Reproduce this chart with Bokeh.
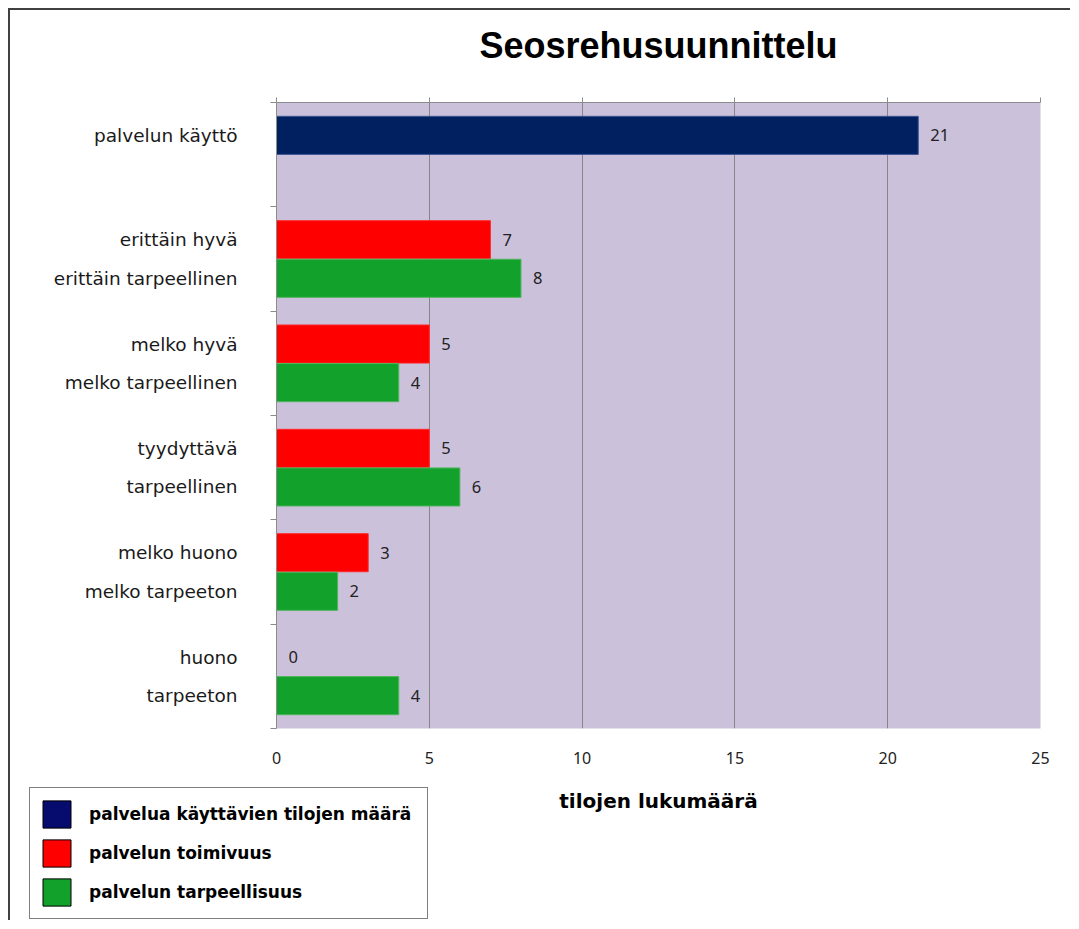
from bokeh.plotting import figure
from bokeh.layouts import column
from bokeh.models import (Range1d, LinearAxis, FixedTicker, Legend, LegendItem,
                          ColumnDataSource)
from bokeh.core.properties import value
from bokeh.embed import file_html
from bokeh.resources import INLINE

# ---- data ----
title_text = "Seosrehusuunnittelu"
x_title = "tilojen lukumäärä"
x_ticks = [0, 5, 10, 15, 20, 25]

usage_labels = ["palvelun käyttö"]
usage_values = [21]

toimivuus_labels = ["erittäin hyvä", "melko hyvä", "tyydyttävä", "melko huono", "huono"]
toimivuus_values = [7, 5, 5, 3, 0]

tarpeellisuus_labels = ["erittäin tarpeellinen", "melko tarpeellinen", "tarpeellinen",
                        "melko tarpeeton", "tarpeeton"]
tarpeellisuus_values = [8, 4, 6, 2, 4]

legend_labels = ["palvelua käyttävien tilojen määrä", "palvelun toimivuus",
                 "palvelun tarpeellisuus"]
bar_colors = ["#002060", "#FF0000", "#12A12A"]
bar_lines = ["#3A5696", "#FF2A2A", "#4DB55C"]
legend_colors = ["#060B6E", "#FF0000", "#12A12A"]

# ---- layout helpers (group slots: 1000 units per group) ----
G = 1000
SLOT_A = 315
SLOT_B = 685
BAR_H = 365
n_groups = 1 + len(toimivuus_labels)

usage_y = [SLOT_A + G * i for i in range(len(usage_values))]
toim_y = [SLOT_A + G * (i + 1) for i in range(len(toimivuus_values))]
tarp_y = [SLOT_B + G * (i + 1) for i in range(len(tarpeellisuus_values))]

p = figure(width=1060, height=818,
           x_range=Range1d(0, 25), y_range=Range1d(G * n_groups, 0),
           output_backend="svg", toolbar_location=None,
           min_border_left=266, min_border_right=30,
           min_border_top=92, min_border_bottom=100)
p.frame_align = False

p.background_fill_color = "#CCC1DA"
p.border_fill_color = "white"
p.outline_line_color = None

# grid
p.xgrid.ticker = FixedTicker(ticks=x_ticks)
p.xgrid.grid_line_color = "#868686"
p.xgrid.grid_line_width = 1
p.ygrid.grid_line_color = None

# bottom x axis
xa = p.xaxis[0]
xa.ticker = FixedTicker(ticks=x_ticks)
xa.axis_line_color = None
xa.major_tick_line_color = None
xa.major_tick_out = 0
xa.major_tick_in = 0
xa.minor_tick_line_color = None
xa.major_label_text_font = "Noto Sans"
xa.major_label_text_font_size = "16px"
xa.major_label_text_color = "#222222"
xa.major_label_standoff = 23
xa.axis_label = x_title
xa.axis_label_text_font = "DejaVu Sans"
xa.axis_label_text_font_style = "bold"
xa.axis_label_text_font_size = "20px"
xa.axis_label_text_color = "black"
xa.axis_label_standoff = 22

# top axis (ticks only) carrying the chart title
top = LinearAxis(ticker=FixedTicker(ticks=x_ticks))
top.axis_line_color = "#8C8C8C"
top.major_tick_line_color = "#8C8C8C"
top.major_tick_out = 5
top.major_tick_in = 0
top.minor_tick_line_color = None
top.major_label_text_alpha = 0
top.major_label_text_font_size = "1px"
top.major_label_standoff = 0
top.axis_label = title_text
top.axis_label_text_font = "Liberation Sans"
top.axis_label_text_font_style = "bold"
top.axis_label_text_font_size = "36px"
top.axis_label_text_color = "black"
top.axis_label_standoff = 32
p.add_layout(top, "above")

# left category axis
all_labels = usage_labels + toimivuus_labels + tarpeellisuus_labels
all_pos = usage_y + toim_y + tarp_y
ya = p.yaxis[0]
ya.ticker = FixedTicker(ticks=sorted(all_pos),
                        minor_ticks=[G * i for i in range(n_groups + 1)])
ya.major_label_overrides = {pos: lab for pos, lab in zip(all_pos, all_labels)}
ya.axis_line_color = "#8C8C8C"
ya.major_tick_line_color = None
ya.major_tick_out = 0
ya.major_tick_in = 0
ya.minor_tick_line_color = "#8C8C8C"
ya.minor_tick_out = 6
ya.minor_tick_in = 0
ya.major_label_text_font = "DejaVu Sans"
ya.major_label_text_font_size = "18.5px"
ya.major_label_text_color = "#1A1A1A"
ya.major_label_standoff = 33

# bars
src_u = ColumnDataSource(dict(y=usage_y, v=usage_values, t=[str(v) for v in usage_values]))
src_t = ColumnDataSource(dict(y=toim_y, v=toimivuus_values, t=[str(v) for v in toimivuus_values]))
src_p = ColumnDataSource(dict(y=tarp_y, v=tarpeellisuus_values, t=[str(v) for v in tarpeellisuus_values]))

for src, fc, lc in zip([src_u, src_t, src_p], bar_colors, bar_lines):
    p.hbar(y="y", left=0, right="v", height=BAR_H, source=src,
           fill_color=fc, line_color=lc, line_width=1)
    p.text(x="v", y="y", text="t", source=src, x_offset=12,
           text_align="left", text_baseline="middle",
           text_font=value("Noto Sans"), text_font_size="16.5px",
           text_color="#222222")

# legend figure (placed under the chart's left panel)
q = figure(width=400, height=133, x_range=Range1d(0, 1), y_range=Range1d(0, 1),
           x_axis_location=None, y_axis_location=None,
           output_backend="svg", toolbar_location=None, min_border=0)
q.frame_align = False
q.outline_line_color = None
q.background_fill_color = "white"
q.border_fill_color = "white"
q.grid.visible = False
q.margin = (-41, 0, 0, 18)

items = []
for lab, col in zip(legend_labels, legend_colors):
    # swatch renderer: its single bar lies outside the visible range
    r = q.hbar(y=[-5], right=[1], left=0, height=0.1, fill_color=col,
               line_color="black", line_width=1)
    items.append(LegendItem(label=lab, renderers=[r]))

legend = Legend(items=items, location=(1, 1), orientation="vertical",
                glyph_width=35, glyph_height=34, label_standoff=15, spacing=5,
                padding=9, margin=0, label_width=329,
                border_line_color="black", border_line_width=1.5,
                background_fill_color="white", background_fill_alpha=1,
                label_text_font="DejaVu Sans", label_text_font_style="bold",
                label_text_font_size="17px", label_text_color="black")
q.add_layout(legend)

layout = column(p, q, margin=(8, 0, 0, 8),
                styles={"border-top": "2px solid #404040",
                        "border-left": "2px solid #404040"})

open("out.html", "w").write(file_html(layout, INLINE))
